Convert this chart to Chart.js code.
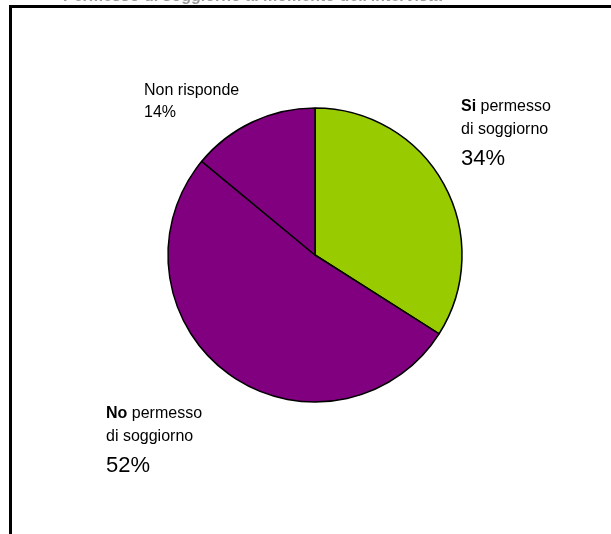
<!DOCTYPE html>
<html>
<head>
<meta charset="utf-8">
<script src="https://cdn.jsdelivr.net/npm/chart.js@4/dist/chart.umd.min.js"></script>
<style>
  html, body { margin: 0; padding: 0; background: #fff; overflow: hidden; }
  #cornice {
    position: absolute; left: 9px; top: 5px; width: 700px; height: 600px;
    border-left: 3px solid #000; border-top: 3px solid #000;
  }
  #grafico { position: absolute; left: 0; top: 0; }
</style>
</head>
<body>
<div id="cornice"></div>
<canvas id="grafico" width="611" height="534"></canvas>
<script>
// categorie e percentuali
const categorie = ["Si permesso di soggiorno", "No permesso di soggiorno", "Non risponde"];
const valori = [34, 52, 14];
const colori = ["#99CC00", "#800080", "#800080"];

// testo delle etichette: [parte in grassetto, resto della prima riga, seconda riga]
const etichette = [
  ["Si", " permesso", "di soggiorno"],
  ["No", " permesso", "di soggiorno"],
  ["", "Non risponde", null]
];
// posizione delle etichette (x sinistra, baseline prima riga) e corpo della percentuale
const posEtichette = [
  { x: 461, y: 111, pct: 22 },
  { x: 106, y: 418, pct: 22 },
  { x: 144, y: 95, pct: 16 }
];

const titolo = "Permesso di soggiorno al momento dell'intervista";
const font = "'Liberation Sans', Arial, sans-serif";

const etichettePlugin = {
  id: "etichette",
  afterDraw(chart) {
    const ctx = chart.ctx;
    ctx.save();
    ctx.textBaseline = "alphabetic";
    ctx.textAlign = "left";

    // titolo (tagliato dal bordo superiore)
    ctx.fillStyle = "#999";
    ctx.font = "bold 16px " + font;
    ctx.fillText(titolo, 63, 0.5);
    ctx.fillStyle = "#000";

    valori.forEach((v, i) => {
      const p = posEtichette[i];
      const [grassetto, resto, riga2] = etichette[i];
      let x = p.x;
      let y = p.y;
      if (grassetto) {
        ctx.font = "bold 16px " + font;
        ctx.fillText(grassetto, x, y);
        x += ctx.measureText(grassetto).width;
      }
      ctx.font = "16px " + font;
      ctx.fillText(resto, x, y);
      if (riga2) {
        y += 23;
        ctx.fillText(riga2, p.x, y);
      }
      y += p.pct > 16 ? 31 : 22;
      ctx.font = p.pct + "px " + font;
      ctx.fillText(v + "%", p.x, y);
    });
    ctx.restore();
  }
};

new Chart(document.getElementById("grafico"), {
  type: "pie",
  data: {
    labels: categorie,
    datasets: [{
      data: valori,
      backgroundColor: colori,
      borderColor: "#000",
      borderWidth: 1.5
    }]
  },
  options: {
    responsive: false,
    animation: false,
    radius: 147,
    layout: { padding: { left: 19, right: 0, top: 0, bottom: 24 } },
    plugins: {
      legend: { display: false },
      tooltip: { enabled: false },
      title: { display: false }
    }
  },
  plugins: [etichettePlugin]
});
</script>
</body>
</html>
